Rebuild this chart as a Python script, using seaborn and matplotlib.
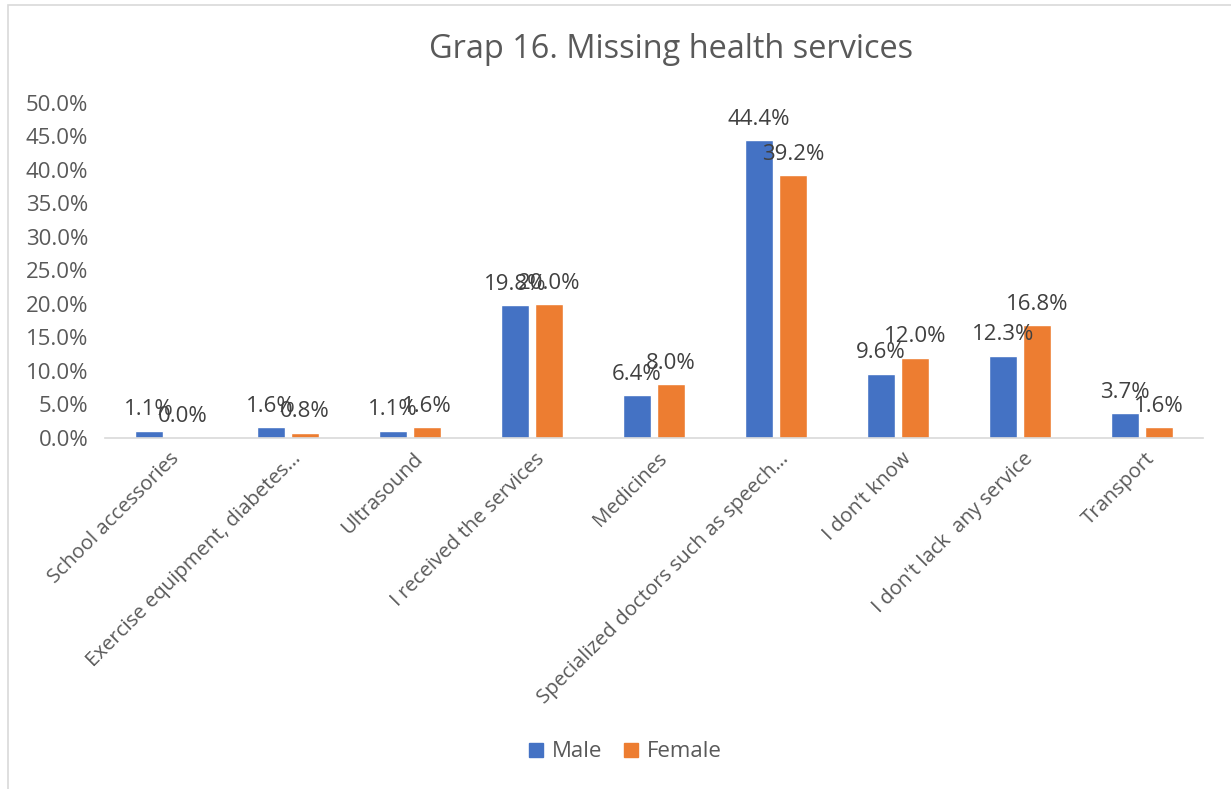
import pandas as pd
import matplotlib.pyplot as plt
import matplotlib.transforms as mtransforms
import seaborn as sns
from matplotlib.patches import Rectangle

CATEGORIES = [
    "School accessories",
    "Exercise equipment, diabetes…",
    "Ultrasound",
    "I received the services",
    "Medicines",
    "Specialized doctors such as speech…",
    "I don’t know",
    "I don't lack  any service",
    "Transport",
]
MALE = [1.1, 1.6, 1.1, 19.8, 6.4, 44.4, 9.6, 12.3, 3.7]
FEMALE = [0.0, 0.8, 1.6, 20.0, 8.0, 39.2, 12.0, 16.8, 1.6]
SERIES = ["Male", "Female"]
COLORS = ["#4472C4", "#ED7D31"]
Y_TICKS = [0, 5, 10, 15, 20, 25, 30, 35, 40, 45, 50]

TEXT = "#595959"
LABEL = "#404040"
FS = 16


def build_frame():
    rows = []
    for cat, m, f in zip(CATEGORIES, MALE, FEMALE):
        rows.append({"category": cat, "gender": "Male", "value": m})
        rows.append({"category": cat, "gender": "Female", "value": f})
    return pd.DataFrame(rows)


def main():
    sns.set_theme(style="white")
    plt.rcParams["font.family"] = ["Open Sans", "DejaVu Sans"]

    df = build_frame()

    fig = plt.figure(figsize=(12.31, 7.89), dpi=100)
    ax = fig.add_axes([0.0853, 0.445, 0.8917, 0.4245])

    sns.barplot(
        data=df, x="category", y="value", hue="gender",
        hue_order=SERIES, order=CATEGORIES, palette=COLORS,
        width=0.56, gap=0.18, ax=ax, legend=False, saturation=1,
    )

    for container in ax.containers:
        ax.bar_label(container, labels=[f"{v:.1f}%" for v in container.datavalues],
                     padding=7.5, fontsize=FS, color=LABEL)

    ax.set_ylim(0, 50)
    ax.set_xlim(-0.5, len(CATEGORIES) - 0.5)
    ax.set_yticks(Y_TICKS)
    ax.set_yticklabels([f"{v:.1f}%" for v in Y_TICKS])
    ax.tick_params(axis="y", length=0, pad=12, labelsize=FS, labelcolor=TEXT)
    ax.tick_params(axis="x", length=0, pad=8, labelsize=14.7, labelcolor=TEXT)
    shift = mtransforms.ScaledTranslation(3 / 100, 0, fig.dpi_scale_trans)
    for lbl in ax.get_xticklabels():
        lbl.set_rotation(45)
        lbl.set_ha("right")
        lbl.set_rotation_mode("anchor")
        lbl.set_transform(lbl.get_transform() + shift)
    ax.set_xlabel("")
    ax.set_ylabel("")

    for side in ["top", "right", "left"]:
        ax.spines[side].set_visible(False)
    ax.spines["bottom"].set_color("#D9D9D9")
    ax.spines["bottom"].set_linewidth(1.2)

    fig.text(0.545, 0.937, "Grap 16. Missing health services", ha="center", va="center",
             fontsize=23.4, color=TEXT)

    handles = [Rectangle((0, 0), 1, 1, color=c) for c in COLORS]
    fig.legend(handles, SERIES, loc="center", bbox_to_anchor=(0.508, 0.047), ncol=2,
               frameon=False, fontsize=FS, labelcolor=TEXT, handlelength=0.6,
               handleheight=0.6, handletextpad=0.4, columnspacing=1.0)

    fig.patches.append(Rectangle((0.0065, -0.01), 1.1, 1.0035, transform=fig.transFigure,
                                 fill=False, edgecolor="#D9D9D9", linewidth=1.2))

    fig.savefig("out.png", dpi=100)
    plt.close(fig)


if __name__ == "__main__":
    main()
